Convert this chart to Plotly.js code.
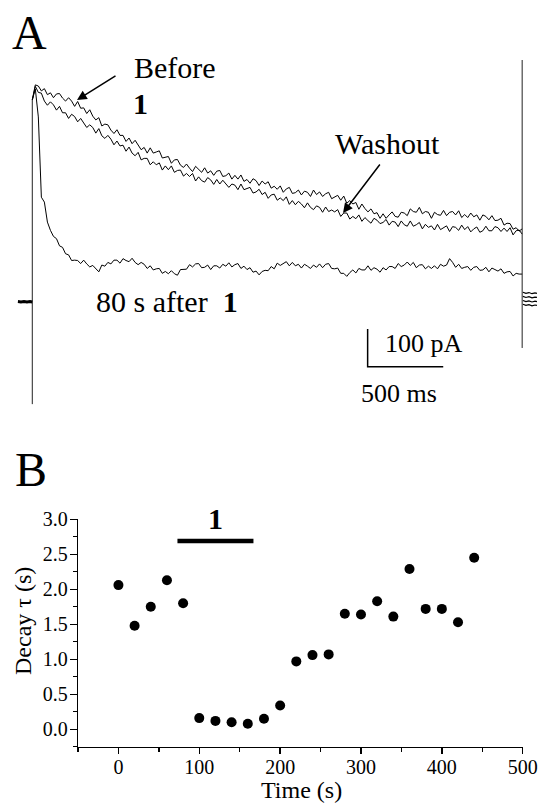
<!DOCTYPE html>
<html><head><meta charset="utf-8">
<script src="https://cdn.plot.ly/plotly-3.0.1.min.js"></script>
<style>html,body{margin:0;padding:0;background:#fff}#chart{width:540px;height:804px}</style>
</head><body><div id="chart"></div>
<script>
// ---------- Panel A data (time in ms, current in pA) ----------
const traceTime = [0,20,40,60,80,100,120,140,160,180,200,220,240,260,280,300,320,340,360,380,400,420,440,460,480,500,520,540,560,580,600,620,640,660,680,700,720,740,760,780,800,820,840,860,880,900,920,940,960,980,1000,1020,1040,1060,1080,1100,1120,1140,1160,1180,1200,1220,1240,1260,1280,1300,1320,1340,1360,1380,1400,1420,1440,1460,1480,1500,1520,1540,1560,1580,1600,1620,1640,1660,1680,1700,1720,1740,1760,1780,1800,1820,1840,1860,1880,1900,1920,1940,1960,1980,2000,2020,2040,2060,2080,2100,2120,2140,2160,2180,2200,2220,2240,2260,2280,2300,2320,2340,2360,2380,2400,2420,2440,2460,2480,2500,2520,2540,2560,2580,2600,2620,2640,2660,2680,2700,2720,2740,2760,2780,2800,2820,2840,2860,2880,2900,2920,2940,2960,2980,3000,3020,3040,3060,3080,3100,3120,3140,3160,3180,3200,3220,3240];
const beforeCurrent = [536,576,
 573,560,566,550,555,542,552,553,541,533,
 542,533,519,532,514,515,500,510,493,483,
 489,467,472,470,456,447,457,442,442,426,
 435,420,429,415,404,410,395,409,395,398,
 401,382,384,386,368,377,378,363,357,366,
 355,346,360,352,344,356,342,348,336,347,
 349,333,335,342,326,336,326,337,320,325,
 315,327,322,309,321,313,319,302,307,299,
 308,291,300,304,288,290,297,284,294,291,
 280,297,285,292,280,287,291,274,278,283,
 270,281,262,269,260,264,246,260,248,239,
 247,234,237,222,234,222,231,239,227,225,
 238,236,229,247,240,238,251,234,240,238,
 222,238,232,230,243,229,238,240,231,242,
 224,232,224,236,226,231,217,231,227,218,
 229,216,217,222,204,209,208,193,197,188,
 194];
const washoutCurrent = [536,572,
 556,554,533,522,531,523,509,519,502,502,
 487,498,492,478,487,473,463,470,463,448,
 460,441,434,442,432,417,427,414,416,400,
 411,395,388,397,377,381,381,364,372,364,
 369,350,361,351,361,344,349,350,334,341,
 333,341,321,332,322,318,330,324,312,325,
 313,323,312,304,313,310,298,313,298,301,
 304,289,292,299,285,291,275,284,286,270,
 276,269,279,259,269,258,267,260,250,263,
 251,245,255,251,238,252,240,244,239,245,
 227,236,236,220,227,221,231,214,224,216,
 209,222,217,208,211,219,204,214,212,200,
 215,205,201,215,201,205,211,194,206,198,
 202,191,206,192,196,202,187,200,198,190,
 204,192,200,186,194,199,185,189,201,189,
 189,200,197,187,196,187,197,178,189,191,
 180];
const after80Current = [536,565,491,278,265,212,190,174,168,149,145,128,125,110,111,
 110,102,111,101,93,97,89,80,98,95,
 105,101,111,111,103,115,110,107,116,105,
 99,105,100,89,96,85,88,89,76,81,
 75,83,75,71,86,87,87,99,93,101,
 102,91,92,98,86,96,96,90,100,95,
 104,93,99,102,89,95,86,91,79,82,
 72,81,84,83,94,88,103,97,101,107,
 96,105,96,100,90,100,95,89,98,92,
 101,91,100,102,89,88,90,76,76,68,
 78,85,77,89,85,85,96,84,91,87,
 79,91,85,94,94,89,102,94,98,106,
 97,105,91,98,99,88,95,89,96,88,
 100,95,98,115,105,92,100,89,92,94,
 84,92,94,84,85,92,80,90,86,82,
 88,76,80,81,69,76,74,74];
// capacitive transients at pulse onset / offset
const transientTime = [0,0,null,3240,3240];
const transientCurrent = [-271,536,null,642,-122];
// baseline before the pulse
const baselineTime = [-95,-75,-55,-35,-15,0];
const baselineCurrent = [1,0,1,0,1,0];
// tail currents after the pulse
const tailTime = [3245,3265,3285,3305,3325,3338,null,3245,3265,3285,3305,3325,3338,null,3245,3265,3285,3305,3325,3338,null,3245,3265,3285,3305,3325,3338];
const tailCurrent = [26,23,25,22,24,23,null,15,12,14,11,13,12,null,4,1,3,0,2,1,null,-6,-9,-7,-10,-8,-9];
// scale bars: 500 ms, 100 pA
const scaleBarTime = [2218,2218,2718];
const scaleBarCurrent = [-72,-172,-172];

// ---------- Panel B data ----------
const timeS = [0,20,40,60,80,100,120,140,160,180,200,220,240,260,280,300,320,340,360,380,400,420,440];
const decayTau = [2.06,1.48,1.75,2.13,1.80,0.16,0.12,0.10,0.08,0.15,0.34,0.97,1.06,1.07,1.65,1.64,1.83,1.61,2.29,1.72,1.72,1.53,2.45];
const drugBarTime = [73,167];
const drugBarLevel = [2.69,2.69];

const W = 540, H = 804;
const px = x => x / W;
const py = y => 1 - y / H;
const serif = '"Liberation Serif", "Times New Roman", Times, serif';

const lineA = {color:'#000', width:1};
const data = [
  {x:traceTime, y:beforeCurrent, xaxis:'x2', yaxis:'y2', mode:'lines', line:lineA, name:'Before'},
  {x:traceTime, y:washoutCurrent, xaxis:'x2', yaxis:'y2', mode:'lines', line:lineA, name:'Washout'},
  {x:traceTime, y:after80Current, xaxis:'x2', yaxis:'y2', mode:'lines', line:lineA, name:'80 s after 1'},
  {x:transientTime, y:transientCurrent, xaxis:'x2', yaxis:'y2', mode:'lines', line:{color:'#222', width:1}, connectgaps:false},
  {x:baselineTime, y:baselineCurrent, xaxis:'x2', yaxis:'y2', mode:'lines', line:{color:'#000', width:3}},
  {x:tailTime, y:tailCurrent, xaxis:'x2', yaxis:'y2', mode:'lines', line:{color:'#000', width:1.2}, connectgaps:false},
  {x:scaleBarTime, y:scaleBarCurrent, xaxis:'x2', yaxis:'y2', mode:'lines', line:{color:'#000', width:1.5}},
  {x:timeS, y:decayTau, xaxis:'x', yaxis:'y', mode:'markers', marker:{color:'#000', size:10}},
  {x:drugBarTime, y:drugBarLevel, xaxis:'x', yaxis:'y', mode:'lines', line:{color:'#000', width:4.5}}
];

function txt(text, x, y, size, xanchor, extra) {
  return Object.assign({text:text, xref:'paper', yref:'paper', x:px(x), y:py(y), xanchor:xanchor||'left', yanchor:'middle',
    showarrow:false, font:{family:serif, size:size, color:'#000'}}, extra||{});
}

const annotations = [
  txt('A', 29, 32, 48, 'center'),
  txt('B', 30.5, 470, 48, 'center'),
  txt('Before', 132, 67, 30),
  txt('<b>1</b>', 140, 104, 30, 'center'),
  txt('Washout', 333, 143, 30),
  txt('80 s after\u00a0\u00a0<b>1</b>', 94, 301, 30),
  txt('100 pA', 383, 343, 26),
  txt('500 ms', 359, 393, 26),
  txt('<b>1</b>', 215.5, 518, 30, 'center'),
  txt('Time (s)', 301, 790, 24, 'center'),
  txt('Decay \u03c4 (s)', 23, 621, 24, 'center', {textangle:-90}),
  {text:'', xref:'paper', yref:'paper', x:px(77), y:py(100), ax:40, ay:-25, showarrow:true, arrowhead:2, arrowsize:1.3, arrowwidth:1.5, arrowcolor:'#000'},
  {text:'', xref:'paper', yref:'paper', x:px(343), y:py(213), ax:38, ay:-50, showarrow:true, arrowhead:2, arrowsize:1.3, arrowwidth:1.5, arrowcolor:'#000'}
];

const layout = {
  width:W, height:H, margin:{l:0,r:0,t:0,b:0}, showlegend:false,
  paper_bgcolor:'#fff', plot_bgcolor:'rgba(0,0,0,0)',
  font:{family:serif, color:'#000'},
  xaxis:{domain:[px(78), px(522.7)], range:[-50,500], anchor:'y', showline:true, linecolor:'#000', linewidth:1.3,
    ticks:'outside', ticklen:6, tickwidth:1.3, tickcolor:'#000', tick0:0, dtick:100, showgrid:false, zeroline:false,
    ticklabelstandoff:-4,
    tickfont:{family:serif, size:20, color:'#000'},
    minor:{ticks:'outside', ticklen:3.5, tickwidth:1.3, tickcolor:'#000', dtick:50, tick0:0, showgrid:false}},
  yaxis:{domain:[py(746.8), py(519.3)], range:[-0.25,3.0], anchor:'x', showline:true, linecolor:'#000', linewidth:1.3,
    ticks:'outside', ticklen:7, tickwidth:1.3, tickcolor:'#000', tick0:0, dtick:0.5, tickformat:'.1f', showgrid:false, zeroline:false,
    ticklabelstandoff:-2,
    tickfont:{family:serif, size:20, color:'#000'},
    minor:{ticks:'outside', ticklen:4, tickwidth:1.3, tickcolor:'#000', dtick:0.25, tick0:0, showgrid:false}},
  xaxis2:{domain:[0,1], range:[-213.6,3358], anchor:'y2', visible:false, fixedrange:true},
  yaxis2:{domain:[0.45,1], range:[-372,801.2], anchor:'x2', visible:false, fixedrange:true},
  annotations:annotations
};

Plotly.newPlot('chart', data, layout, {staticPlot:true, displayModeBar:false});
</script>
</body></html>
